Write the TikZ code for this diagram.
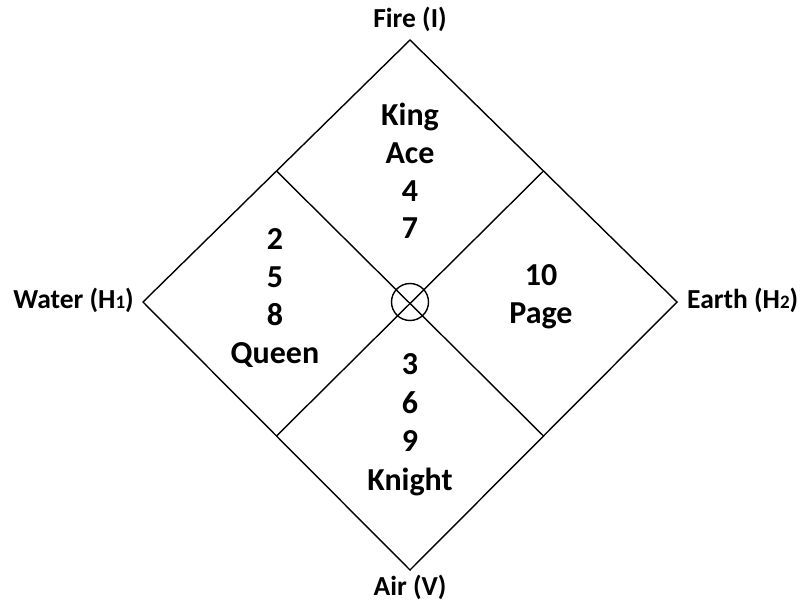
\documentclass[tikz,border=0pt]{standalone}
\usepackage{fontspec}
\setmainfont{Carlito}
\begin{document}
\begin{tikzpicture}[x=1pt,y=-1pt,
  edge/.style={line width=1.4pt,black},
  big/.style={font=\bfseries\fontsize{32}{36}\selectfont,anchor=base,inner sep=0pt},
  lab/.style={font=\bfseries\fontsize{27.5}{30}\selectfont,anchor=base,inner sep=0pt}]
\useasboundingbox (0,0) rectangle (800,607);
\coordinate (T) at (410,40);
\coordinate (L) at (143,302);
\coordinate (R) at (677,302);
\coordinate (B) at (410,570);
\coordinate (TL) at (276.5,171);
\coordinate (TR) at (543.5,171);
\coordinate (BL) at (276.5,436);
\coordinate (BR) at (543.5,436);
\draw[edge,line join=miter] (T) -- (R) -- (B) -- (L) -- cycle;
\draw[edge] (TL) -- (BR);
\draw[edge] (TR) -- (BL);
\node[draw,circle,line width=1.4pt,minimum size=37pt,inner sep=0pt] (C) at (410,302) {};
% labels
\node[lab] (fire) at (410,28) {Fire (I)};
\node[lab] (air) at (410,595) {Air (V)};
\node[lab,anchor=base east] (water) at (134,308) {Water (H{\fontsize{19}{19}\selectfont 1})};
\node[lab,anchor=base west] (earth) at (687,308) {Earth (H{\fontsize{19}{19}\selectfont 2})};
% top
\node[big] (king) at (410,125) {King};
\node[big] (ace) at (410,163) {Ace};
\node[big] (four) at (410,201) {4};
\node[big] (seven) at (410,238) {7};
% left
\node[big] (two) at (275,249) {2};
\node[big] (five) at (275,287) {5};
\node[big] (eight) at (275,325) {8};
\node[big] (queen) at (275,363) {Queen};
% right
\node[big] (ten) at (541,285) {10};
\node[big] (page) at (541,323) {Page};
% bottom
\node[big] (three) at (410,374) {3};
\node[big] (six) at (410,413) {6};
\node[big] (nine) at (410,451) {9};
\node[big] (knight) at (410,490) {Knight};
\end{tikzpicture}
\end{document}
